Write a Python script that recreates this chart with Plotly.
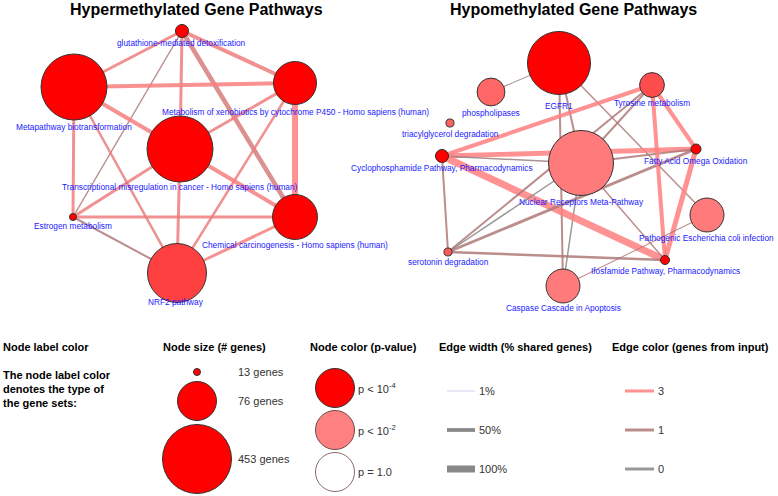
import numpy as np
import plotly.graph_objects as go

# ---------------- data ----------------
hyper_nodes = ["glutathione-mediated detoxification", "Metapathway biotransformation",
               "Metabolism of xenobiotics by cytochrome P450 - Homo sapiens (human)",
               "Transcriptional misregulation in cancer - Homo sapiens (human)",
               "Estrogen metabolism", "Chemical carcinogenesis - Homo sapiens (human)",
               "NRF2 pathway"]
hyper_genes = [25, 415, 126, 415, 13, 151, 327]
hyper_logp = [4, 4, 4, 4, 4, 4, 3.0]

hypo_nodes = ["EGFR1", "phospholipases", "Tyrosine metabolism", "triacylglycerol degradation",
              "Cyclophosphamide Pathway, Pharmacodynamics", "Nuclear Receptors Meta-Pathway",
              "Fatty Acid Omega Oxidation", "Pathogenic Escherichia coli infection",
              "serotonin degradation", "Ifosfamide Pathway, Pharmacodynamics",
              "Caspase Cascade in Apoptosis"]
hypo_genes = [378, 54, 48, 15, 25, 403, 19, 66, 15, 17, 66]
hypo_logp = [4, 2.4, 2.8, 2.5, 4, 2.1, 4, 2.1, 2.6, 4, 2.1]

# edges: (source, target, % shared genes, genes from input)
hyper_edges = [
    (0, 1, 38, 2.6), (0, 2, 54, 2.6), (0, 3, 38, 2.6), (0, 5, 62, 2.0), (0, 4, 15, 1.0),
    (1, 2, 54, 2.8), (1, 3, 54, 2.8), (1, 4, 38, 2.6), (1, 6, 31, 2.5),
    (2, 3, 38, 2.6), (2, 5, 85, 3.0), (2, 6, 31, 2.6),
    (3, 4, 38, 2.6), (3, 5, 54, 2.8), (3, 6, 38, 2.6),
    (4, 5, 38, 2.6), (4, 6, 23, 1.0), (5, 6, 38, 2.8),
]
hypo_edges = [
    (1, 0, 8, 0.5), (0, 5, 23, 1), (0, 10, 23, 1), (0, 7, 15, 1), (5, 10, 15, 0),
    (4, 2, 54, 3), (4, 6, 69, 3), (4, 5, 15, 0.5), (4, 9, 100, 3), (4, 8, 23, 1),
    (8, 2, 23, 1), (8, 5, 15, 0), (8, 6, 38, 1), (8, 9, 31, 1),
    (5, 2, 23, 1), (5, 6, 23, 1), (5, 9, 15, 1),
    (2, 6, 54, 3), (2, 9, 54, 3), (6, 9, 69, 3), (7, 10, 8, 1),
]

legend_genes = [13, 76, 453]
legend_gene_labels = ["13 genes", "76 genes", "453 genes"]
legend_logp = [4, 2, 0]
legend_p_labels = ["p < 10<sup>-4</sup>", "p < 10<sup>-2</sup>", "p = 1.0"]
legend_pct = [1, 50, 100]
legend_pct_labels = ["1%", "50%", "100%"]
legend_input = [3, 1, 0]
legend_input_labels = ["3", "1", "0"]

# ---------------- layout (pixel positions) ----------------
hyper_pos = [(182, 31), (74, 87), (295, 83), (180, 149), (73, 217), (295, 217), (177, 273)]
hyper_lab = [(181, 43), (74, 127), (295, 112), (180, 187), (73, 226), (295, 245), (176, 302)]
hypo_pos = [(559, 63), (491, 92), (652, 85), (450, 123), (442, 156), (581, 163),
            (696, 149), (707, 215), (448, 252), (665, 260), (563, 286)]
hypo_lab = [(559, 106), (491, 113), (652, 103), (450, 134), (442, 168), (581, 202),
            (696, 161), (706, 238), (448, 262), (665, 271), (563, 308)]


def diam(g):
    return float(np.interp(g, [13, 76, 453], [7, 39, 69]))


def node_color(v):
    if v <= 2:
        gb = 255 - 127 * v / 2
    else:
        gb = 128 - 128 * min(v - 2, 2) / 2
    gb = int(round(gb))
    return f"rgb(255,{gb},{gb})"


def edge_color(c):
    anchors = [0, 1, 3]
    r = np.interp(c, anchors, [136, 176, 255])
    g = np.interp(c, anchors, [136, 122, 128])
    b = np.interp(c, anchors, [136, 122, 128])
    return f"rgb({int(r)},{int(g)},{int(b)})"


def edge_width(p):
    return 0.5 + p * 0.065


fig = go.Figure()

LABEL_FONT = dict(family="Liberation Sans, Arial", size=8.3, color="#1a1aff")
BOLD = "Liberation Sans, Arial"

for nodes, genes, logp, edges, pos, lab in [
    (hyper_nodes, hyper_genes, hyper_logp, hyper_edges, hyper_pos, hyper_lab),
    (hypo_nodes, hypo_genes, hypo_logp, hypo_edges, hypo_pos, hypo_lab),
]:
    for s, t, pct, gin in edges:
        fig.add_trace(go.Scatter(
            x=[pos[s][0], pos[t][0]], y=[pos[s][1], pos[t][1]], mode="lines",
            line=dict(color=edge_color(gin), width=edge_width(pct)), opacity=0.85,
            hoverinfo="skip", showlegend=False))
    fig.add_trace(go.Scatter(
        x=[p[0] for p in pos], y=[p[1] for p in pos], mode="markers",
        marker=dict(size=[diam(g) for g in genes], color=[node_color(v) for v in logp],
                    line=dict(color="#333333", width=1), opacity=1),
        text=nodes, hoverinfo="text", showlegend=False))
    for name, (lx, ly) in zip(nodes, lab):
        fig.add_annotation(x=lx, y=ly, text=name, showarrow=False, font=LABEL_FONT,
                           xanchor="center", yanchor="middle")

# titles
fig.add_annotation(x=196, y=9, text="<b>Hypermethylated Gene Pathways</b>", showarrow=False,
                   font=dict(family=BOLD, size=16, color="black"), xanchor="center", yanchor="middle")
fig.add_annotation(x=573, y=9, text="<b>Hypomethylated Gene Pathways</b>", showarrow=False,
                   font=dict(family=BOLD, size=16, color="black"), xanchor="center", yanchor="middle")

# ---------------- legend section ----------------
HFONT = dict(family=BOLD, size=11, color="black")
TFONT = dict(family="Liberation Sans, Arial", size=11, color="#333333")
fig.add_annotation(x=1, y=347, text="<b>Node label color</b>", showarrow=False, font=HFONT,
                   xanchor="left", yanchor="middle")
for i, line in enumerate(["The node label color", "denotes the type of", "the gene sets:"]):
    fig.add_annotation(x=1, y=375 + 14 * i, text=f"<b>{line}</b>", showarrow=False, font=HFONT,
                       xanchor="left", yanchor="middle")

fig.add_annotation(x=214, y=347, text="<b>Node size (# genes)</b>", showarrow=False, font=HFONT,
                   xanchor="center", yanchor="middle")
size_y = [372, 401, 459]
fig.add_trace(go.Scatter(
    x=[197] * 3, y=size_y, mode="markers",
    marker=dict(size=[diam(g) for g in legend_genes], color="#ff0000",
                line=dict(color="#333333", width=1), opacity=1),
    hoverinfo="skip", showlegend=False))
for yy, t in zip(size_y, legend_gene_labels):
    fig.add_annotation(x=236, y=yy, text=t, showarrow=False, font=TFONT,
                       xanchor="left", yanchor="middle")

fig.add_annotation(x=363, y=347, text="<b>Node color (p-value)</b>", showarrow=False, font=HFONT,
                   xanchor="center", yanchor="middle")
p_y = [388, 430, 472]
fig.add_trace(go.Scatter(
    x=[335] * 3, y=p_y, mode="markers",
    marker=dict(size=39, color=[node_color(v) for v in legend_logp],
                line=dict(color=["#333333", "#6a4a4a", "#8a6a6a"], width=1), opacity=1),
    hoverinfo="skip", showlegend=False))
for yy, t in zip(p_y, legend_p_labels):
    fig.add_annotation(x=356, y=yy, text=t, showarrow=False, font=TFONT,
                       xanchor="left", yanchor="middle")

fig.add_annotation(x=515, y=347, text="<b>Edge width (% shared genes)</b>", showarrow=False,
                   font=HFONT, xanchor="center", yanchor="middle")
w_y = [391, 430, 469]
w_col = ["#c8c8e8", "#888888", "#888888"]
for yy, pct, col, t in zip(w_y, legend_pct, w_col, legend_pct_labels):
    fig.add_trace(go.Scatter(x=[447, 475], y=[yy, yy], mode="lines",
                             line=dict(color=col, width=edge_width(pct) if pct > 1 else 0.8),
                             hoverinfo="skip", showlegend=False))
    fig.add_annotation(x=477, y=yy, text=t, showarrow=False, font=TFONT,
                       xanchor="left", yanchor="middle")

fig.add_annotation(x=690, y=347, text="<b>Edge color (genes from input)</b>", showarrow=False,
                   font=HFONT, xanchor="center", yanchor="middle")
for yy, c, t in zip(w_y, legend_input, legend_input_labels):
    fig.add_trace(go.Scatter(x=[625, 654], y=[yy, yy], mode="lines",
                             line=dict(color=edge_color(c), width=3), opacity=0.85,
                             hoverinfo="skip", showlegend=False))
    fig.add_annotation(x=656, y=yy, text=t, showarrow=False, font=TFONT,
                       xanchor="left", yanchor="middle")

fig.update_layout(
    width=778, height=496, margin=dict(l=0, r=0, t=0, b=0),
    paper_bgcolor="white", plot_bgcolor="white",
    xaxis=dict(range=[0, 778], visible=False, fixedrange=True),
    yaxis=dict(range=[496, 0], visible=False, fixedrange=True),
    showlegend=False,
)

fig.write_html("out.html", config={"displayModeBar": False},
               post_script="document.body.style.margin='0';document.body.style.padding='0';"
                           "document.body.style.overflow='hidden';")
